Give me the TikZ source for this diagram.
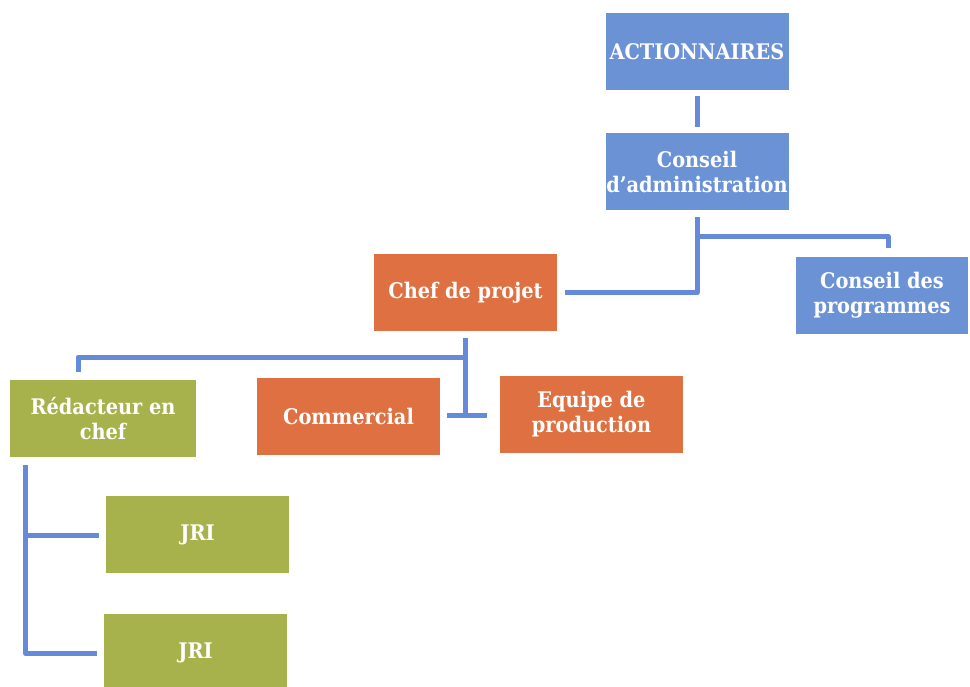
\documentclass[tikz,border=0pt]{standalone}
\usepackage{fontspec}
\setmainfont{DejaVu Serif Condensed}
\usetikzlibrary{calc}
\definecolor{boxblue}{RGB}{108,146,214}
\definecolor{boxorange}{RGB}{222,112,66}
\definecolor{boxgreen}{RGB}{168,178,76}
\definecolor{lineblue}{RGB}{102,138,218}
\tikzset{
  orgbox/.style={rectangle, minimum width=183pt, minimum height=77pt, inner sep=0pt,
    text=white, align=center, font=\bfseries\fontsize{21.5}{25}\selectfont},
  bluebox/.style={orgbox, fill=boxblue},
  orangebox/.style={orgbox, fill=boxorange},
  greenbox/.style={orgbox, fill=boxgreen},
  conn/.style={draw=lineblue, line width=5pt, line join=round, line cap=butt}
}
\begin{document}
\begin{tikzpicture}[x=1pt,y=-1pt]
\useasboundingbox (0,0) rectangle (970,687);
\fill[white] (0,0) rectangle (970,687);
% nodes
\node[bluebox] (act) at (697,52) {ACTIONNAIRES};
\node[bluebox] (cda) at (697,171.5) {Conseil\\d'administration};
\node[bluebox, minimum width=172pt] (cdp) at (882,295.5) {Conseil des\\programmes};
\node[orangebox] (chef) at (465.5,292.5) {Chef de projet};
\node[greenbox, minimum width=186pt] (redac) at (103,418.5) {Rédacteur en\\chef};
\node[orangebox] (com) at (348.5,416) {Commercial};
\node[orangebox] (equ) at (591.5,414) {Equipe de\\production};
\node[greenbox] (jri1) at (197.5,534.5) {JRI};
\node[greenbox] (jri2) at (195.5,652.5) {JRI};
% connector points
\coordinate (a1) at ($(act.south)+(0,5)$);
\coordinate (a2) at ($(cda.north)+(0,-6)$);
\coordinate (c1) at ($(cda.south)+(0,7)$);
\coordinate (c2) at ($(cda.south)+(0,26)$);
\coordinate (p1) at ($(cdp.north)+(6,-9)$);
\coordinate (h1) at ($(chef.east)+(8,0)$);
\coordinate (s1) at ($(chef.south)+(0,7)$);
\coordinate (s2) at ($(chef.south)+(0,26)$);
\coordinate (r1) at ($(redac.north)+(-25,-8)$);
\coordinate (m1) at ($(com.east)+(7,-1)$);
\coordinate (m2) at ($(equ.west)+(-13,1)$);
\coordinate (d1) at ($(redac.south west)+(16,8)$);
\coordinate (j1) at ($(jri1.west)+(-7,1)$);
\coordinate (j2) at ($(jri2.west)+(-7,1)$);
% connectors
\draw[conn] (a1) -- (a2);
\draw[conn] (c1) |- (h1);
\draw[conn] (c2) -| (p1);
\draw[conn] (s1) -- (s1|-m1);
\draw[conn] (m1) -- (m2);
\draw[conn] (s2) -| (r1);
\draw[conn] (d1) |- (j2);
\draw[conn] (d1|-j1) -- (j1);
\end{tikzpicture}
\end{document}
